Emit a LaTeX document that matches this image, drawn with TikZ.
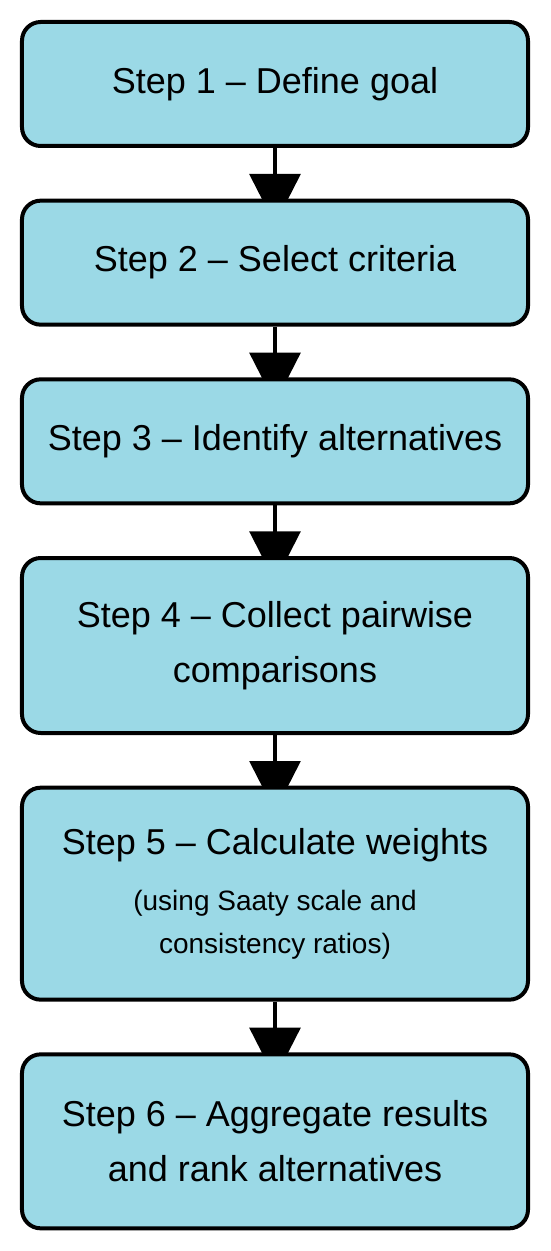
\documentclass[tikz,border=0pt]{standalone}
\usepackage{fontspec}
\setmainfont{Liberation Sans}
\usepackage{tikz}
\usetikzlibrary{arrows.meta,positioning,backgrounds}
\definecolor{StepBlue}{HTML}{9BD9E6}

\begin{document}
\begin{tikzpicture}[node distance=38pt,
    stepbox/.style={draw=black,line width=3pt,rounded corners=14pt,fill=StepBlue,
                    minimum width=379.5pt,minimum height=93pt,align=center,
                    font=\fontsize{27}{41}\selectfont},
    note/.style={font=\fontsize{21}{32}\selectfont},
    flow/.style={-{Triangle[width=38pt,length=38pt]},line width=3pt,black,shorten >=-19.5pt}]
    \useasboundingbox (-206.25pt,15pt) rectangle (206.25pt,-923.25pt);
    \node[stepbox,anchor=north] (goal) at (0,0) {Step 1 -- Define goal};
    \node[stepbox,below=of goal] (criteria) {Step 2 -- Select criteria};
    \node[stepbox,below=of criteria] (alts) {Step 3 -- Identify alternatives};
    \node[stepbox,below=of alts,minimum height=131.25pt] (pairs) {Step 4 -- Collect pairwise\\comparisons};
    \node[stepbox,below=of pairs,minimum height=159pt] (weights)
        {Step 5 -- Calculate weights\\[1pt]\fontsize{21}{32}\selectfont (using Saaty scale and\\[-9pt]\fontsize{21}{32}\selectfont consistency ratios)};
    \node[stepbox,below=of weights,minimum height=130.5pt] (rank) {Step 6 -- Aggregate results\\and rank alternatives};
    % arrows sit behind the boxes so the tips are cut by the fill
    \begin{scope}[on background layer]
      \draw[flow] (goal)--(criteria);
      \draw[flow] (criteria)--(alts);
      \draw[flow] (alts)--(pairs);
      \draw[flow] (pairs)--(weights);
      \draw[flow] (weights)--(rank);
    \end{scope}
  \end{tikzpicture}
\end{document}
